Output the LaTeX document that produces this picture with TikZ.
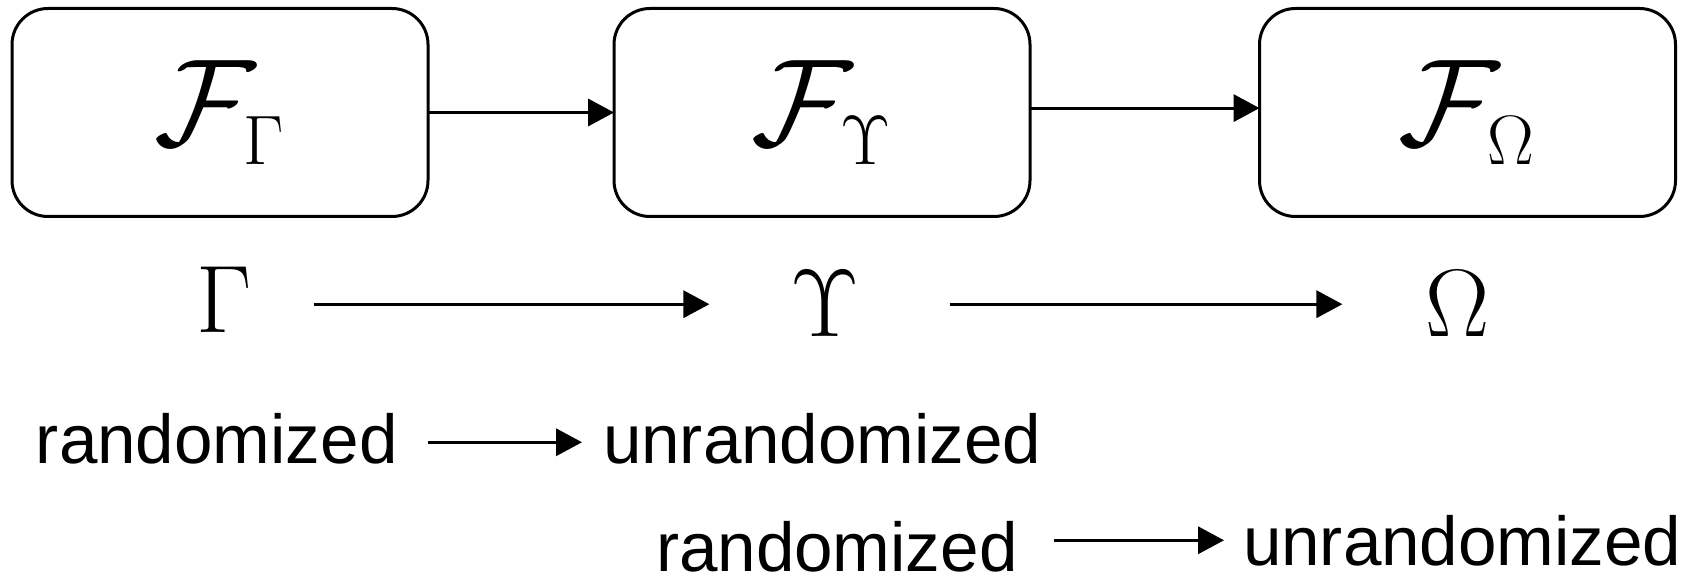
\RequirePackage{fix-cm}
\documentclass[tikz,border=0pt]{standalone}
\usepackage[no-math]{fontspec}
\newfontfamily\labelfont{Liberation Sans}
\usetikzlibrary{arrows.meta}
\DeclareMathSizes{31}{31}{17.5}{12}
\newcommand{\boxmath}[1]{\fontsize{31}{36}\selectfont$#1$}
\tikzset{
  box/.style={draw, line width=0.75pt, rounded corners=9pt, minimum width=104pt, minimum height=52pt, inner sep=0pt, outer sep=0pt},
  arr/.style={line width=0.75pt, -{Triangle[length=6.5pt,width=6.8pt]}},
  greek/.style={inner sep=0pt, outer sep=0pt, anchor=base, font=\fontsize{24}{28}\selectfont},
  word/.style={inner sep=0pt, outer sep=0pt, anchor=base west, font=\labelfont\fontsize{17.3}{20}\selectfont},
}
\begin{document}
\begin{tikzpicture}[x=0.25pt, y=-0.25pt]
\useasboundingbox (0,0) rectangle (1692,577);
% boxes
\node[box] (b1) at (220,112.5) {\boxmath{\mathcal{F}_{\Gamma}}};
\node[box] (b2) at (822,112.5) {\boxmath{\mathcal{F}_{\Upsilon}}};
\node[box] (b3) at (1467.5,112.5) {\boxmath{\mathcal{F}_{\Omega}}};
\draw[arr] (b1.east) -- (b2.west);
\draw[arr] ([yshift=1.1pt]b2.east) -- ([yshift=1.1pt]b3.west);
% greek row
\node[greek] (G) at (224,333) {$\Gamma$};
\node[greek] (U) at (825.5,337) {$\Upsilon$};
\node[greek] (O) at (1458,337) {$\Omega$};
\draw[arr, shorten <=15.5pt, shorten >=20.4pt] (G.east |- U.west) -- (U.west);
\draw[arr, shorten <=22.4pt, shorten >=20.9pt] (U.east) -- (O.west);
% word rows
\node[word] (r1) at (36,463) {randomized};
\node[word] (u1) at (603,463) {unrandomized};
\draw[arr, shorten <=7.5pt, shorten >=5.25pt] ([yshift=-1pt]r1.east) -- ([yshift=-1pt]u1.west);
\node[word] (r2) at (656,571) {randomized};
\node[word] (u2) at (1243,565) {unrandomized};
\draw[arr, shorten <=9pt, shorten >=4.75pt] (r2.east |- u2.west) -- (u2.west);
\end{tikzpicture}
\end{document}
